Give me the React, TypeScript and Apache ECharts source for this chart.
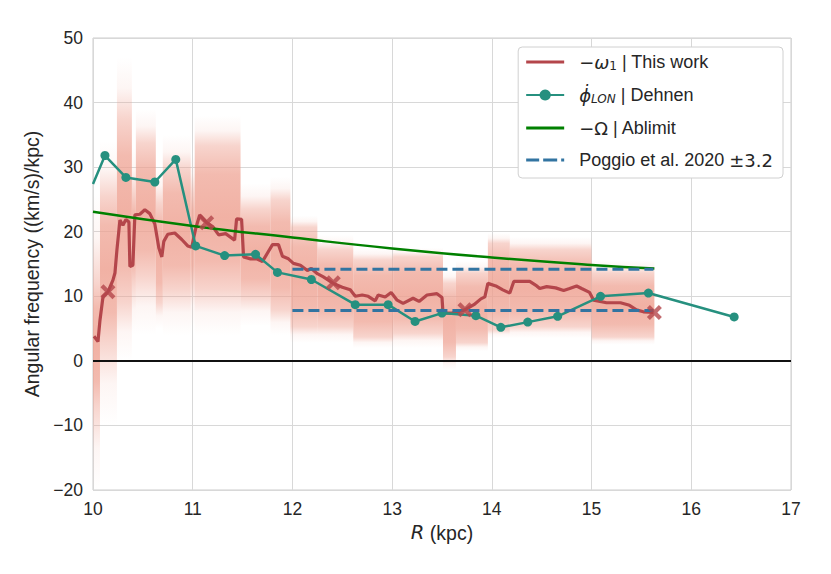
import React, { useEffect, useRef } from "react";
import * as echarts from "echarts";

// ---- data ----
const omegaR = [10.01, 10.05, 10.07, 10.1, 10.15, 10.2, 10.22, 10.24, 10.27, 10.3, 10.33, 10.36, 10.37, 10.4, 10.42, 10.47, 10.52, 10.57, 10.62, 10.66, 10.69, 10.71, 10.75, 10.82, 10.89, 10.95, 10.99, 11.03, 11.07, 11.14, 11.2, 11.26, 11.33, 11.42, 11.44, 11.49, 11.51, 11.58, 11.64, 11.7, 11.75, 11.8, 11.86, 11.9, 11.96, 12.01, 12.08, 12.15, 12.19, 12.25, 12.31, 12.41, 12.5, 12.58, 12.63, 12.7, 12.76, 12.83, 12.86, 12.93, 12.99, 13.05, 13.11, 13.21, 13.27, 13.35, 13.45, 13.5, 13.51, 13.6, 13.73, 13.82, 13.89, 13.93, 13.96, 14.04, 14.11, 14.18, 14.22, 14.3, 14.38, 14.45, 14.48, 14.55, 14.64, 14.72, 14.78, 14.85, 14.9, 14.98, 15.02, 15.15, 15.29, 15.38, 15.45, 15.52, 15.62];
const omegaV = [3.8, 3.0, 6.3, 9.9, 10.7, 12.5, 13.6, 17.2, 21.8, 21.0, 21.9, 21.5, 14.6, 14.8, 22.6, 22.7, 23.4, 22.8, 21.2, 17.5, 16.1, 18.5, 19.6, 19.8, 18.8, 17.8, 17.6, 20.5, 22.6, 21.4, 20.8, 19.5, 19.7, 18.7, 22.0, 21.9, 16.1, 15.8, 15.8, 15.4, 16.7, 18.0, 18.0, 16.2, 15.8, 15.1, 14.8, 14.0, 14.3, 13.5, 13.0, 12.0, 11.4, 11.0, 10.0, 10.2, 10.0, 9.3, 10.2, 9.9, 10.6, 9.4, 8.9, 9.7, 9.2, 10.2, 10.4, 9.8, 7.4, 7.4, 7.9, 8.7, 9.6, 9.9, 12.0, 11.6, 11.0, 10.5, 12.3, 12.3, 12.3, 11.6, 11.2, 11.5, 11.3, 10.9, 11.2, 11.6, 11.2, 10.6, 9.4, 9.0, 9.0, 8.6, 7.9, 7.6, 7.5];

const crossR = [10.15, 11.14, 12.41, 13.73, 15.63];
const crossV = [10.7, 21.4, 12.1, 7.9, 7.5];

const dehnenR = [10.0, 10.12, 10.33, 10.62, 10.83, 11.03, 11.32, 11.63, 11.85, 12.19, 12.63, 12.96, 13.23, 13.5, 13.84, 14.09, 14.36, 14.66, 15.09, 15.57, 16.43];
const dehnenV = [27.4, 31.8, 28.4, 27.7, 31.2, 17.8, 16.3, 16.5, 13.7, 12.6, 8.7, 8.7, 6.1, 7.4, 7.0, 5.2, 6.0, 6.9, 10.0, 10.5, 6.8];

const ablimitR = [10.0, 11.0, 12.0, 13.0, 14.0, 15.0, 15.63];
const ablimitV = [23.1, 20.9, 19.1, 17.4, 16.0, 14.85, 14.3];

const poggioR = [12.0, 15.62];
const poggioCenter = 11.0;
const poggioErr = 3.2;

// scatter cloud, per R bin: edges, and faint/dense extents
const cloudEdges = [10.0, 10.07, 10.24, 10.39, 10.43, 10.63, 10.7, 10.98, 11.02, 11.48, 11.78, 11.98, 12.25, 12.61, 13.01, 13.51, 13.64, 13.96, 14.18, 15.0, 15.63];
const cloudFaintLo = [-20, -10, 0, 4, 4, 5, 4, 5, 4, 5.4, 4, 2.8, 2.8, 2, 2, -1.4, 1.5, 3.5, 3.5, 2.5];
const cloudDenseLo = [-7, 3, 9, 12, 13, 9, 11, 12, 11, 10, 7.9, 5.3, 5.3, 3.7, 4.3, 0.6, 2.8, 4.8, 5.3, 3.7];
const cloudDenseHi = [12, 25.5, 37.5, 26, 33.7, 24.4, 29.7, 26, 33.3, 23.5, 24.9, 20.7, 17.2, 15.6, 16.1, 12, 13.6, 18.2, 17.2, 13.6];
const cloudFaintHi = [26, 34, 47, 33, 39, 30, 35, 32, 38, 27.5, 28.5, 22.5, 19.5, 17.5, 17.5, 14, 15.5, 19.8, 19.2, 15.6];

const xTicks = { min: 10, max: 17, interval: 1 };
const yTicks = { min: -20, max: 50, interval: 10 };

const RED = "#b4464b";
const TEAL = "#26907f";
const GREEN = "#008000";
const BLUE = "#3274a1";

const BOX = "M0,0 M38,14 ";
const solidIcon = "path://" + BOX + "M0,5.4 L38,5.4 L38,8.6 L0,8.6 Z";
const dashIcon =
  "path://" + BOX + "M0,5.4 L13,5.4 L13,8.6 L0,8.6 Z M17,5.4 L31,5.4 L31,8.6 L17,8.6 Z M35,5.4 L38,5.4 L38,8.6 L35,8.6 Z";

export default function App() {
  const ref = useRef<HTMLDivElement>(null);
  useEffect(() => {
    if (!ref.current) return;
    const chart = echarts.init(ref.current, null, { renderer: "svg" });

    const cloudData = cloudFaintLo.map((_, i) => [
      cloudEdges[i],
      cloudEdges[i + 1],
      cloudFaintLo[i],
      cloudDenseLo[i],
      cloudDenseHi[i],
      cloudFaintHi[i],
    ]);

    const xPath = "path://M2,0 L5,3 L8,0 L10,2 L7,5 L10,8 L8,10 L5,7 L2,10 L0,8 L3,5 L0,2 Z";
    const minus = (v: number) => String(v).replace("-", "−");
    const C = (a: number) => `rgba(238,160,144,${a})`;

    const option: any = {
      animation: false,
      backgroundColor: "#ffffff",
      grid: {
        left: 93,
        right: 40,
        top: 38,
        bottom: 84,
        show: true,
        borderColor: "#cccccc",
        borderWidth: 1,
        backgroundColor: "transparent",
      },
      xAxis: {
        type: "value",
        min: xTicks.min,
        max: xTicks.max,
        interval: xTicks.interval,
        axisLine: { show: false },
        axisTick: { show: false },
        splitLine: { lineStyle: { color: "#d8d8d8", width: 1 } },
        axisLabel: { color: "#262626", fontSize: 17.5, margin: 10, fontFamily: "Liberation Sans", formatter: minus },
        name: "{i|R} (kpc)",
        nameLocation: "middle",
        nameGap: 31,
        nameTextStyle: {
          color: "#262626",
          fontSize: 19.5,
          fontFamily: "Liberation Sans",
          rich: {
            i: { fontSize: 19.5, fontStyle: "italic", fontFamily: "DejaVu Sans", color: "#262626" },
          },
        },
      },
      yAxis: {
        type: "value",
        min: yTicks.min,
        max: yTicks.max,
        interval: yTicks.interval,
        axisLine: { show: false },
        axisTick: { show: false },
        splitLine: { lineStyle: { color: "#d8d8d8", width: 1 } },
        axisLabel: { color: "#262626", fontSize: 17.5, margin: 10, fontFamily: "Liberation Sans", formatter: minus },
        name: "Angular frequency ((km/s)/kpc)",
        nameLocation: "middle",
        nameGap: 44,
        nameTextStyle: { color: "#262626", fontSize: 19.5, fontFamily: "Liberation Sans" },
      },
      legend: {
        orient: "vertical",
        right: 48,
        top: 47,
        data: [
          { name: "omega", icon: solidIcon },
          { name: "dehnen" },
          { name: "ablimit", icon: solidIcon },
          { name: "poggio", icon: dashIcon },
        ],
        backgroundColor: "#ffffff",
        borderColor: "#d0d0d0",
        borderWidth: 1,
        borderRadius: 4,
        padding: [6, 10, 9, 7],
        itemWidth: 38,
        itemHeight: 14,
        itemGap: 14,
        textStyle: {
          color: "#262626",
          fontSize: 18,
          fontFamily: "Liberation Sans",
          rich: {
            g: { width: 10, fontSize: 18, lineHeight: 20 },
            t: { fontSize: 18, fontFamily: "Liberation Sans", color: "#262626", lineHeight: 20 },
            m: { fontSize: 18, fontFamily: "DejaVu Sans", fontStyle: "italic", color: "#262626", lineHeight: 20 },
            u: { fontSize: 18, fontFamily: "DejaVu Sans", color: "#262626", lineHeight: 20 },
            sub: { fontSize: 12, fontFamily: "DejaVu Sans", fontStyle: "italic", color: "#262626", lineHeight: 10, verticalAlign: "bottom" },
            subu: { fontSize: 12, fontFamily: "DejaVu Sans", color: "#262626", lineHeight: 10, verticalAlign: "bottom" },
          },
        },
        formatter: (name: string) => {
          if (name === "omega") return "{g| }{u|−}{m|ω}{subu|1}{t| | This work}";
          if (name === "dehnen") return "{g| }{m|ϕ̇}{sub|LON}{t| | Dehnen}";
          if (name === "ablimit") return "{g| }{u|−Ω}{t| | Ablimit}";
          return "{g| }{t|Poggio et al. 2020 }{u|±3.2}";
        },
      },
      series: [
        {
          type: "custom",
          name: "cloud",
          z: 1,
          clip: true,
          silent: true,
          encode: { x: [0, 1], y: [2, 5] },
          data: cloudData,
          renderItem: (params: any, api: any) => {
            const x0 = api.value(0);
            const x1 = api.value(1);
            const fLo = api.value(2);
            const dLo = api.value(3);
            const dHi = api.value(4);
            const fHi = api.value(5);
            const pTop = api.coord([x0, fHi]);
            const pBot = api.coord([x1, fLo]);
            const yDHi = api.coord([x0, dHi])[1];
            const yDLo = api.coord([x0, dLo])[1];
            const h = pBot[1] - pTop[1];
            const s1 = Math.max(0.001, Math.min(0.999, (yDHi - pTop[1]) / h));
            const s2 = Math.max(s1, Math.min(0.999, (yDLo - pTop[1]) / h));
            const mid = (s1 + s2) / 2;
            return {
              type: "rect",
              shape: { x: pTop[0], y: pTop[1], width: pBot[0] - pTop[0], height: h },
              style: {
                fill: new echarts.graphic.LinearGradient(0, 0, 0, 1, [
                  { offset: 0, color: C(0.0) },
                  { offset: s1 * 0.5, color: C(0.1) },
                  { offset: s1, color: C(0.45) },
                  { offset: s1 + (mid - s1) * 0.4, color: C(0.72) },
                  { offset: mid, color: C(0.82) },
                  { offset: mid + (s2 - mid) * 0.6, color: C(0.72) },
                  { offset: s2, color: C(0.45) },
                  { offset: s2 + (1 - s2) * 0.5, color: C(0.1) },
                  { offset: 1, color: C(0.0) },
                ]),
              },
            };
          },
        },
        {
          type: "line",
          name: "omega",
          z: 3,
          data: omegaR.map((r, i) => [r, omegaV[i]]),
          symbol: "none",
          lineStyle: { color: RED, width: 3.2 },
          itemStyle: { color: RED },
          markLine: {
            silent: true,
            symbol: "none",
            label: { show: false },
            lineStyle: { color: "#111111", width: 2, type: "solid" },
            data: [{ yAxis: 0 }],
          },
        },
        {
          type: "line",
          name: "dehnen",
          z: 4,
          data: dehnenR.map((r, i) =>
            i === 0 ? { value: [r, dehnenV[i]], symbol: "none" } : [r, dehnenV[i]]
          ),
          symbol: "circle",
          symbolSize: 9,
          showAllSymbol: true,
          lineStyle: { color: TEAL, width: 2.5 },
          itemStyle: { color: TEAL },
        },
        {
          type: "line",
          name: "ablimit",
          z: 5,
          data: ablimitR.map((r, i) => [r, ablimitV[i]]),
          smooth: true,
          symbol: "none",
          lineStyle: { color: GREEN, width: 2.5 },
          itemStyle: { color: GREEN },
        },
        {
          type: "line",
          name: "poggio",
          z: 6,
          data: poggioR.map((r) => [r, poggioCenter + poggioErr]),
          symbol: "none",
          lineStyle: { color: BLUE, width: 3, type: [11, 5] },
          itemStyle: { color: BLUE },
        },
        {
          type: "line",
          name: "poggio",
          z: 6,
          data: poggioR.map((r) => [r, poggioCenter - poggioErr]),
          symbol: "none",
          lineStyle: { color: BLUE, width: 3, type: [11, 5] },
          itemStyle: { color: BLUE },
        },
        {
          type: "scatter",
          name: "crosses",
          z: 7,
          data: crossR.map((r, i) => [r, crossV[i]]),
          symbol: xPath,
          symbolSize: 15,
          itemStyle: { color: RED },
        },
      ],
    };
    chart.setOption(option);
    return () => chart.dispose();
  }, []);
  return (
    <div
      ref={ref}
      style={{ position: "fixed", left: 0, top: 0, width: 831, height: 574, background: "#fff" }}
    />
  );
}
